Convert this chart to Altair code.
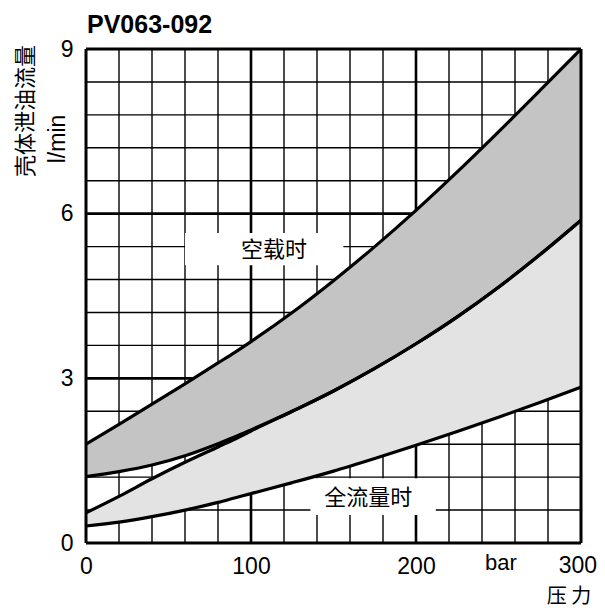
import altair as alt
import pandas as pd

# ---- data ----
pressure = [0, 20, 40, 60, 80, 90, 100, 125, 150, 175, 200, 225, 250, 275, 300]
idle_upper = [1.80, 2.16, 2.53, 2.90, 3.28, 3.47, 3.67, 4.20, 4.78, 5.40, 6.06, 6.76, 7.49, 8.24, 9.00]
idle_lower = [1.21, 1.30, 1.42, 1.59, 1.81, 1.93, 2.06, 2.40, 2.77, 3.18, 3.63, 4.12, 4.66, 5.25, 5.88]
full_upper = [0.55, 0.85, 1.17, 1.47, 1.75, 1.89, 2.04, 2.40, 2.77, 3.18, 3.63, 4.12, 4.66, 5.25, 5.88]
full_lower = [0.31, 0.38, 0.48, 0.60, 0.74, 0.82, 0.90, 1.10, 1.31, 1.54, 1.78, 2.03, 2.29, 2.56, 2.84]

x_ticks = [0, 100, 200]
x_last_tick = [300]
y_ticks = [0, 3, 6, 9]
x_minor = [20, 40, 60, 80, 120, 140, 160, 180, 220, 240, 260, 280]
x_major = [100, 200]
y_minor = [0.6, 1.2, 1.8, 2.4, 3.6, 4.2, 4.8, 5.4, 6.6, 7.2, 7.8, 8.4]
y_major = [3, 6]
x_border = [0, 300]
y_border = [0, 9]

label_text = ["空载时", "全流量时"]
label_x = [114, 171]
label_y = [5.33, 0.82]
box_x1 = [60, 136]
box_x2 = [156, 212]
box_y1 = [5.06, 0.51]
box_y2 = [5.65, 1.18]

title_text = "PV063-092"
y_title_1 = "壳体泄油流量"
y_title_2 = "l/min"
x_title = "压 力"
x_unit = "bar"

# ---- tables ----
curves = pd.DataFrame({
    "x": pressure, "c1": idle_upper, "c2": idle_lower,
    "c3": full_upper, "c4": full_lower,
})
labels = pd.DataFrame({"t": label_text, "x": label_x, "y": label_y})
boxes = pd.DataFrame({"x": box_x1, "x2": box_x2, "y": box_y1, "y2": box_y2})

XS = alt.Scale(domain=[0, 300], nice=False, zero=False)
YS = alt.Scale(domain=[0, 9], nice=False, zero=False)
LAT = "Liberation Sans"
CJK = "Noto Sans CJK SC"

AX_X = alt.Axis(values=x_ticks, title=None, ticks=False, domain=False, grid=False,
                labelFontSize=23, labelFont=LAT, labelColor="black", labelPadding=12,
                labelFlush=False, labelOverlap=False)
AX_Y = alt.Axis(values=y_ticks, title=None, ticks=False, domain=False, grid=False,
                labelFontSize=23, labelFont=LAT, labelColor="black", labelPadding=13,
                labelFlush=False, labelOverlap=False)


def X(f):
    return alt.X(f, scale=XS, axis=AX_X, title=None)


def Y(f):
    return alt.Y(f, scale=YS, axis=AX_Y, title=None)


def vrules(vals, w):
    return alt.Chart(pd.DataFrame({"v": vals})).mark_rule(color="black", strokeWidth=w).encode(
        x=X("v:Q"))


def hrules(vals, w):
    return alt.Chart(pd.DataFrame({"v": vals})).mark_rule(color="black", strokeWidth=w).encode(
        y=Y("v:Q"))


base = alt.Chart(curves)

dark = base.mark_area(color="#c4c4c4", interpolate="monotone").encode(
    x=X("x:Q"), y=Y("c1:Q"), y2="c2:Q",
)
light = base.mark_area(color="#e3e3e3", interpolate="monotone").encode(
    x=X("x:Q"), y=Y("c3:Q"), y2="c4:Q",
)


def curve(col):
    return base.mark_line(color="black", strokeWidth=3.2, interpolate="monotone").encode(
        x=X("x:Q"), y=Y(f"{col}:Q"),
    )


box_layer = alt.Chart(boxes).mark_rect(color="white").encode(
    x=X("x:Q"), x2="x2:Q", y=Y("y:Q"), y2="y2:Q",
)
label_layer = alt.Chart(labels).mark_text(
    font=CJK, fontSize=22, color="black", align="center", baseline="middle"
).encode(x=X("x:Q"), y=Y("y:Q"), text="t:N")

# last x tick label, pulled inside the canvas edge
last_tick = alt.Chart(pd.DataFrame({"v": x_last_tick})).mark_text(
    font=LAT, fontSize=23, color="black", align="right", baseline="top", dx=16,
).encode(x=X("v:Q"), y=alt.value(506), text="v:Q")


def free_text(txt, px, py, size, font, weight="normal", angle=0, align="center", baseline="middle"):
    return alt.Chart(pd.DataFrame({"t": [txt]})).mark_text(
        font=font, fontSize=size, fontWeight=weight, color="black",
        align=align, baseline=baseline, angle=angle,
    ).encode(x=alt.value(px), y=alt.value(py), text="t:N")


chart = alt.layer(
    vrules(x_minor, 1.4), hrules(y_minor, 1.4),
    vrules(x_major, 2.6), hrules(y_major, 2.6),
    box_layer,
    light, dark,
    curve("c4"), curve("c3"), curve("c2"), curve("c1"),
    label_layer,
    vrules(x_border, 3), hrules(y_border, 3),
    last_tick,
    free_text(title_text, 1, -16, 25, LAT, weight="bold", align="left", baseline="alphabetic"),
    free_text(y_title_1, -60, 62, 22, CJK, angle=270),
    free_text(y_title_2, -28, 90, 23, LAT, angle=270),
    free_text(x_unit, 415, 514, 22, LAT),
    free_text(x_title, 483, 548, 20, CJK),
).properties(
    width=495, height=494,
    autosize=alt.AutoSizeParams(type="none"),
    padding={"left": 78, "top": 41, "right": 16, "bottom": 65},
).configure_view(stroke=None).configure(background="white")

chart.save("out.html", embed_options={"renderer": "svg", "actions": False})
